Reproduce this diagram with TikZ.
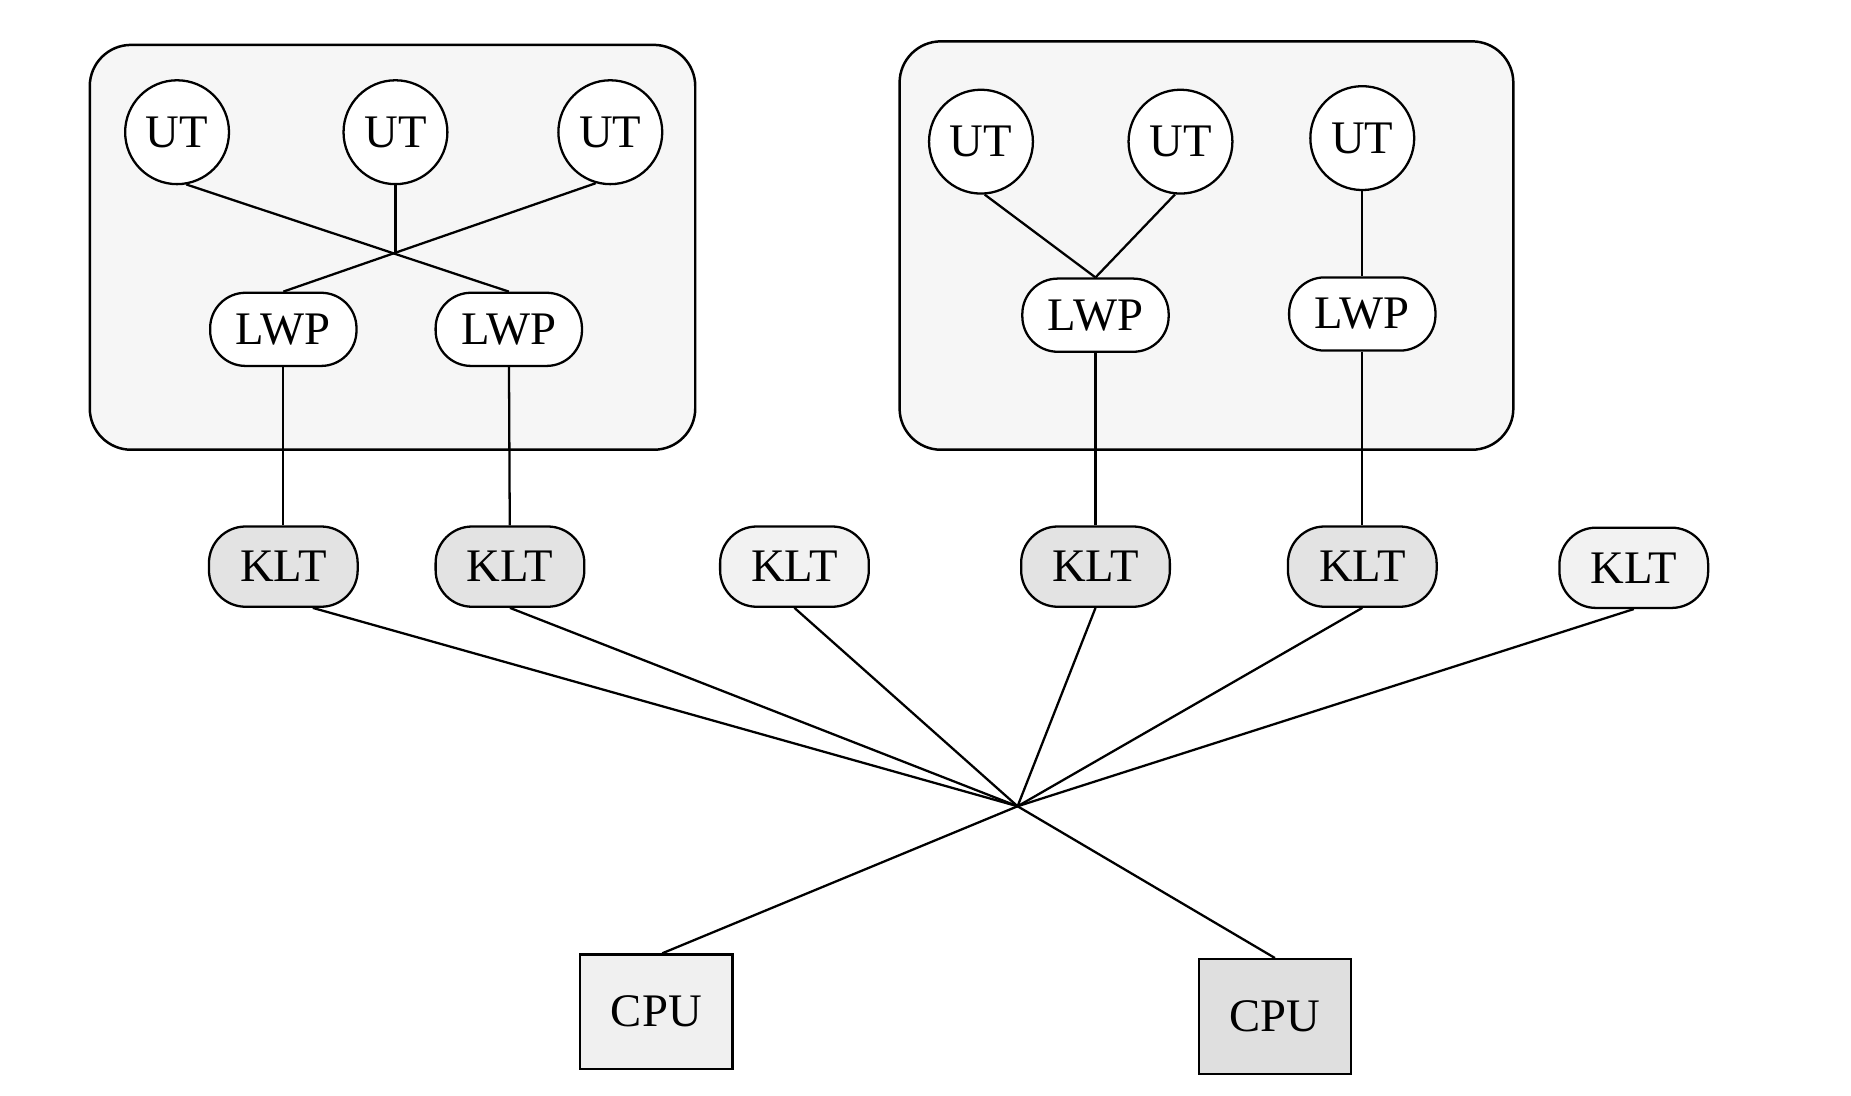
\documentclass[tikz,border=0pt]{standalone}
\usepackage{fontspec}
\setmainfont{Liberation Serif}
\usetikzlibrary{intersections}
\begin{document}
\begin{tikzpicture}[x=0.02cm,y=-0.02cm,
  line width=1.1pt,
  every node/.style={font=\fontsize{22.5}{26}\selectfont},
  procbox/.style={draw, fill=gray!7, rounded corners=0.7cm, line width=1.2pt},
  utnode/.style={draw, circle, fill=white, minimum size=1.76cm, inner sep=0pt},
  lwpnode/.style={draw, fill=white, rounded corners=0.6cm, minimum width=2.48cm, minimum height=1.24cm, inner sep=0pt},
  kltdark/.style={draw, fill=gray!22, rounded corners=0.62cm, minimum width=2.52cm, minimum height=1.36cm, inner sep=0pt},
  kltlight/.style={draw, fill=gray!10, rounded corners=0.62cm, minimum width=2.52cm, minimum height=1.36cm, inner sep=0pt},
  cpunode/.style={draw, minimum width=2.58cm, minimum height=1.94cm, inner sep=0pt}
]
\useasboundingbox[fill=white] (0,0) rectangle (1568,928);

% process boxes
\node[procbox, minimum width=10.26cm, minimum height=6.86cm] (p1) at (332.5,209.5) {};
\node[procbox, minimum width=10.4cm, minimum height=6.92cm] (p2) at (1022,208) {};

% left process
\node[utnode] (ut1) at (150,112) {UT};
\node[utnode] (ut2) at (335,112) {UT};
\node[utnode] (ut3) at (517,112) {UT};
\node[lwpnode] (lwp1) at (240,279) {LWP};
\node[lwpnode] (lwp2) at (431,279) {LWP};

% right process
\node[utnode] (ut4) at (831,120) {UT};
\node[utnode] (ut5) at (1000,120) {UT};
\node[utnode] (ut6) at (1154,117) {UT};
\node[lwpnode] (lwp3) at (928,267) {LWP};
\node[lwpnode] (lwp4) at (1154,266) {LWP};

% KLTs
\node[kltdark] (k1) at (240,480) {KLT};
\node[kltdark] (k2) at (432,480) {KLT};
\node[kltlight] (k3) at (673,480) {KLT};
\node[kltdark] (k4) at (928,480) {KLT};
\node[kltdark] (k5) at (1154,480) {KLT};
\node[kltlight] (k6) at (1384,481) {KLT};

% CPUs
\node[cpunode, fill=gray!12] (c1) at (556,857) {CPU};
\node[cpunode, fill=gray!25] (c2) at (1080,861) {CPU};

\coordinate (hub) at (862,683);

% UT -> LWP
\draw[name path=la] (ut1.-80) -- (lwp2.north);
\draw[name path=lb] (ut3.-106) -- (lwp1.north);
\path[name intersections={of=la and lb, by=xc}];
\draw (ut2.south) -- (ut2 |- xc);
\draw (ut4.-86) -- (lwp3.north);
\draw (ut5.-96) -- (lwp3.north);
\draw (ut6) -- (lwp4);

% LWP -> KLT
\draw (lwp1) -- (k1);
\draw (lwp2) -- (k2);
\draw (lwp3) -- (k4);
\draw (lwp4) -- (k5);

% KLT -> hub -> CPU
\draw ([xshift=0.5cm]k1.south) -- (hub);
\foreach \k in {k2,k3,k4,k5,k6} \draw (\k.south) -- (hub);
\draw (hub) -- ([xshift=0.1cm]c1.north);
\draw (hub) -- (c2.north);
\end{tikzpicture}
\end{document}
